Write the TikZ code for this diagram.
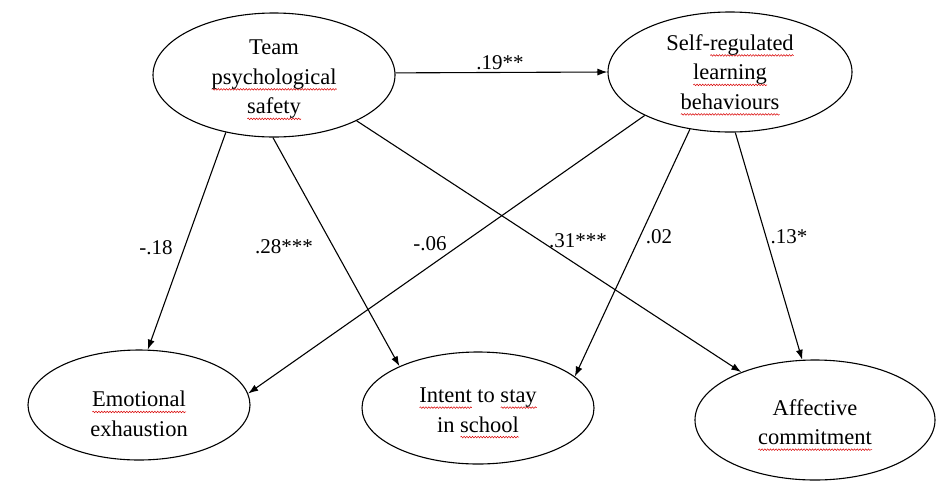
\documentclass[tikz,border=0pt]{standalone}
\usepackage{fontspec}
\setmainfont{Liberation Serif}
\newfontfamily\figserif{Liberation Serif}
\usetikzlibrary{shapes.geometric,arrows.meta,decorations.pathmorphing}
\tikzset{
  sqline/.style={red!85!black, line width=0.5pt, decorate,
    decoration={snake, amplitude=0.8pt, segment length=2.8pt}},
  latent/.style={ellipse, draw, line width=1.1pt, inner sep=0pt},
  ltext/.style={align=center, inner sep=0pt,
    font=\figserif\fontsize{22.5}{29.5}\selectfont},
  arrowpath/.style={draw, line width=1.1pt, -{Latex[length=10pt,width=7pt]}},
  coef/.style={font=\figserif\fontsize{21}{24}\selectfont, inner sep=0pt}
}
\newsavebox\sqbox
\newcommand\sqw[1]{\sbox\sqbox{#1}\makebox[0pt][l]{\raisebox{-5pt}{\tikz[baseline=0pt]\draw[sqline] (0pt,0pt) -- (\wd\sqbox,0pt);}}\usebox\sqbox}
\begin{document}
\begin{tikzpicture}[x=1pt,y=-1pt]
\useasboundingbox (0,0) rectangle (937,483);
\node[latent, minimum width=242pt, minimum height=124pt] (tps) at (274,75) {};
\node[latent, minimum width=244pt, minimum height=120pt] (srl) at (730,72) {};
\node[latent, minimum width=222pt, minimum height=110pt] (ee) at (139,405) {};
\node[latent, minimum width=232pt, minimum height=112pt] (its) at (478,408) {};
\node[latent, minimum width=240pt, minimum height=120pt] (ac) at (815,420) {};

\node[ltext] (tpsT) at ([yshift=-5pt]tps.center) {Team\\ \sqw{psychological}\\ \sqw{safety}};
\node[ltext] (srlT) at ([yshift=-3pt]srl.center) {Self-\sqw{regulated}\\ \sqw{learning}\\ \sqw{behaviours}};
\node[ltext] (eeT) at ([yshift=-9pt]ee.center) {\sqw{Emotional}\\ exhaustion};
\node[ltext] (itsT) at ([yshift=-5pt]its.center) {\sqw{Intent} to \sqw{stay}\\ in \sqw{school}};
\node[ltext] (acT) at ([yshift=-5pt]ac.center) {Affective\\ \sqw{commitment}};

\draw[arrowpath] (tps.1) -- (srl.180);
\draw[arrowpath] (tps.-130) -- (ee.81.5);
\draw[arrowpath] (tps.-91) -- (its.152);
\draw[arrowpath] (tps.-29) -- (ac.147.4);
\draw[arrowpath] (srl.-153.4) -- (ee.6.3);
\draw[arrowpath] (srl.-125.8) -- (its.18.6);
\draw[arrowpath] (srl.-85.3) -- (ac.102.6);

\node[coef] (c1) at (500,63) {.19**};
\node[coef] (c2) at (156,248) {-.18};
\node[coef] (c3) at (284,247) {.28***};
\node[coef] (c4) at (430,244) {-.06};
\node[coef] (c5) at (578,241) {.31***};
\node[coef] (c6) at (659,237) {.02};
\node[coef] (c7) at (789,237) {.13*};
\end{tikzpicture}
\end{document}
